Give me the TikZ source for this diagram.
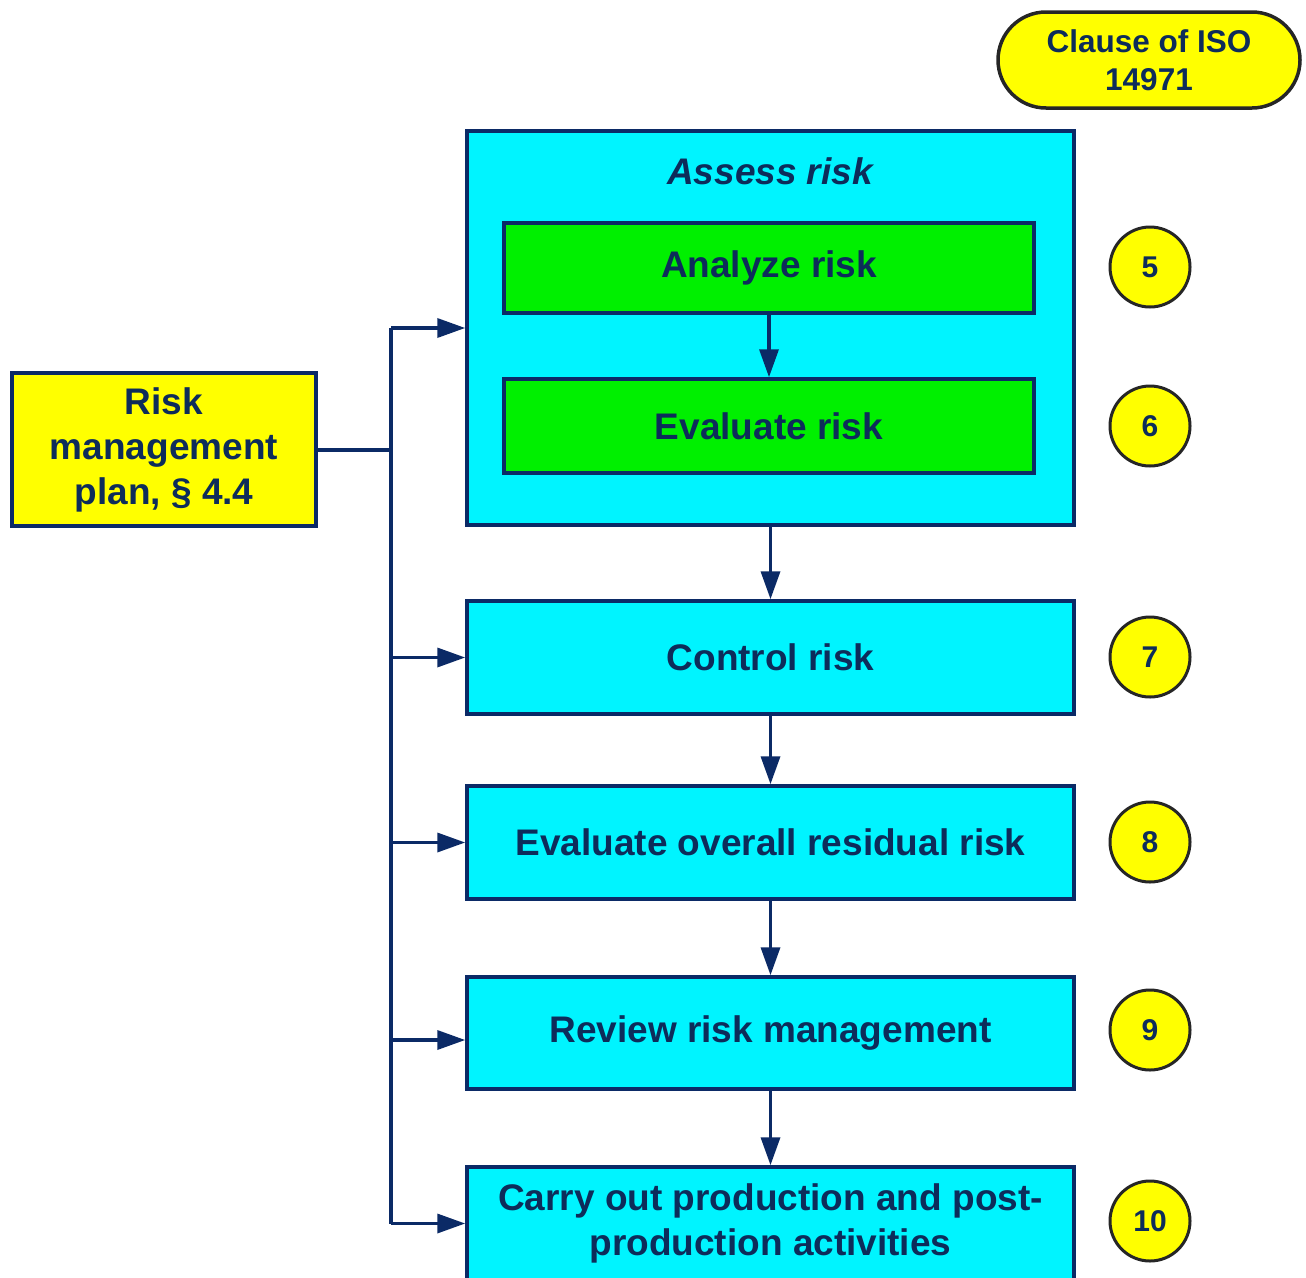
\documentclass[tikz,border=0pt]{standalone}
\usepackage{fontspec}
\setmainfont{Liberation Sans}
\usetikzlibrary{arrows.meta}
\definecolor{navy}{HTML}{0B2A66}
\definecolor{txt}{HTML}{0D2C5A}
\definecolor{cyanbox}{HTML}{00F4FF}
\definecolor{greenbox}{HTML}{00F000}
\definecolor{yel}{HTML}{FFFF00}
\tikzset{
  box/.style={draw=navy, line width=3.5pt, fill=cyanbox, minimum width=607pt, text=txt,
    font=\fontsize{37}{45}\selectfont\bfseries, align=center, inner sep=0pt},
  gbox/.style={box, fill=greenbox, minimum width=530pt},
  ybox/.style={draw=navy, line width=3.5pt, fill=yel, text=txt,
    font=\fontsize{37}{45}\selectfont\bfseries, align=center, inner sep=0pt},
  num/.style={circle, draw=black!85, line width=3pt, fill=yel, minimum size=80pt, inner sep=0pt,
    text=txt, font=\fontsize{30}{36}\selectfont\bfseries},
  arr/.style={draw=navy, line width=3.5pt, -{Triangle[length=28pt,width=19pt]}},
  ln/.style={draw=navy, line width=4pt}
}
\begin{document}
\begin{tikzpicture}[x=1pt,y=-1pt]
\clip (0,0) rectangle (1306,1277);
\fill[white] (0,0) rectangle (1306,1277);
% Clause label
\node[ybox, draw=black!85, rounded corners=48pt, minimum width=302pt, minimum height=96pt,
  font=\fontsize{31.5}{38}\selectfont\bfseries] (clause) at (1149,60) {Clause of ISO\\14971};
% Assess risk container
\node[box, minimum height=394pt] (assess) at (770.5,328) {};
\node[text=txt, font=\fontsize{37}{45}\selectfont\bfseries\itshape] (assesstitle) at (770,171) {Assess risk};
\node[gbox, minimum height=90pt] (analyze) at (769,268) {Analyze risk};
\node[gbox, minimum height=94pt] (evaluate) at (769,426) {Evaluate risk};
% Other boxes
\node[box, minimum height=113pt] (control) at (770.5,657.5) {Control risk};
\node[box, minimum height=113pt] (overall) at (770.5,842.5) {Evaluate overall residual risk};
\node[box, minimum height=112pt] (review) at (770.5,1033) {Review risk management};
\node[box, minimum height=113pt] (carry) at (770.5,1223.5) {Carry out production and post-\\production activities};
% Risk management plan
\node[ybox, minimum width=304pt, minimum height=153pt] (rmp) at (164,449.5) {Risk\\management\\plan, \S\ 4.4};
% Clause numbers
\node[num] (n5) at (1150,267) {5};
\node[num] (n6) at (1150,426) {6};
\node[num] (n7) at (1150,657) {7};
\node[num] (n8) at (1150,842) {8};
\node[num] (n9) at (1150,1030) {9};
\node[num] (n10) at (1150,1221) {10};
% Vertical flow
\draw[arr] (analyze.south) -- (evaluate.north);
\draw[arr] (assess.south) -- (control.north);
\draw[arr] (control.south) -- (overall.north);
\draw[arr] (overall.south) -- (review.north);
\draw[arr] (review.south) -- (carry.north);
% Feeds from plan
\coordinate (j) at (391,449.5);
\draw[ln] (rmp.east) -- (j);
\draw[ln] (j |- assess.west) -- (j |- carry.west);
\draw[arr] (j |- assess.west) -- (assess.west);
\draw[arr] (j |- control.west) -- (control.west);
\draw[arr] (j |- overall.west) -- (overall.west);
\draw[arr] ([yshift=-7pt]j |- review.west) -- ([yshift=-7pt]review.west);
\draw[arr] (j |- carry.west) -- (carry.west);
\end{tikzpicture}
\end{document}
